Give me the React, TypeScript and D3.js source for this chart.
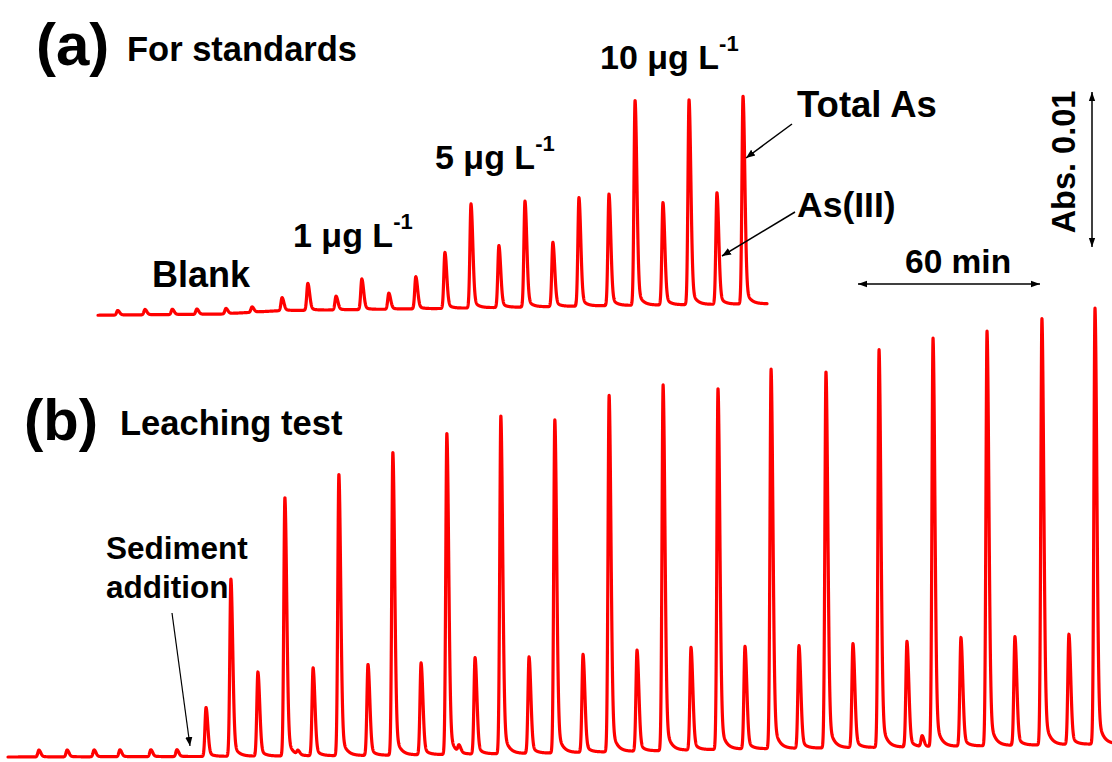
import React from "react";
import * as d3 from "d3";

// ---------- Data (time in min, signal in mAbs) ----------
// Panel (a): standards
const aBlankTimes = [6.5, 15.5, 24.5, 32.6, 42.2, 50.8];
const aBlankHeights = [0.3, 0.35, 0.35, 0.35, 0.35, 0.35];
const aAs3Times = [60.7, 78.5, 95.9, 114.4, 132.2, 150.0, 168.5, 186.3, 204.1];
const aAs3Heights = [0.85, 0.9, 1.05, 3.66, 4.05, 4.2, 7.3, 6.7, 7.3];
const aTotalTimes = [69.2, 87.0, 104.8, 123.0, 140.8, 158.6, 177.1, 194.9, 212.7];
const aTotalHeights = [1.76, 2.0, 2.1, 6.8, 6.93, 7.1, 13.4, 13.4, 13.6];
const aBaseTimes = [0, 40, 60, 110, 170, 220.6];
const aBaseValues = [0.05, 0.12, 0.35, 0.48, 0.68, 0.8];

// Panel (b): leaching test
const bBlankTimes = [10.2, 19.5, 28.4, 36.9, 47.1, 55.7];
const bBlankHeights = [0.45, 0.45, 0.45, 0.45, 0.45, 0.45];
const bAs3Times = [65.3, 82.4, 100.6, 118.7, 136.2, 154.0, 171.8, 189.6, 207.4, 225.2, 243.0, 260.8, 278.6, 296.4, 314.2, 332.0, 349.8];
const bAs3Heights = [3.2, 5.5, 5.75, 5.95, 6.0, 6.3, 6.3, 6.4, 6.6, 6.7, 6.7, 6.7, 6.8, 6.9, 7.1, 7.1, 7.2];
const bTotalTimes = [73.5, 91.3, 109.1, 126.9, 144.7, 162.5, 180.3, 198.2, 216.0, 234.1, 251.6, 269.7, 287.2, 305.0, 322.8, 340.9, 358.4];
const bTotalHeights = [11.6, 16.9, 18.4, 19.8, 21.0, 22.1, 21.8, 23.3, 23.9, 23.6, 24.8, 24.6, 26.0, 26.7, 27.1, 27.9, 28.5];
const bArtifactTimes = [95.6, 148.7, 301.4];
const bArtifactHeights = [0.26, 0.45, 0.7];
const bBaseTimes = [0, 60, 120, 180, 240, 300, 364];
const bBaseValues = [0, 0.03, 0.1, 0.26, 0.52, 0.66, 0.86];

// ---------- Peak shape ----------
function peak(dt: number, h: number): number {
  const sl = 0.36, sr = 0.6, a = 0.12, tau = 1.5;
  if (dt < 0) return h * Math.exp(-(dt * dt) / (2 * sl * sl));
  return h * ((1 - a) * Math.exp(-(dt * dt) / (2 * sr * sr)) + a * Math.exp(-dt / tau));
}

type Peak = [number, number];
function zipPeaks(ts: number[], hs: number[]): Peak[] {
  return ts.map((t, i) => [t, hs[i]] as Peak);
}

function buildTrace(t0: number, t1: number, peaks: Peak[], base: d3.ScaleLinear<number, number>) {
  const pts: [number, number][] = [];
  for (let t = t0; t <= t1 + 1e-9; t += 0.04) {
    let v = base(t);
    for (const [pt, h] of peaks) {
      const dt = t - pt;
      if (dt > -3 && dt < 14) v += peak(dt, h);
    }
    pts.push([t, v]);
  }
  return pts;
}

const FONT = "'Liberation Sans', Arial, Helvetica, sans-serif";

function Label({ x, y, text, size = 34, sup }: { x: number; y: number; text: string; size?: number; sup?: string }) {
  return (
    <text x={x} y={y} fontFamily={FONT} fontWeight="bold" fontSize={size} fill="#000">
      {text}
      {sup ? (
        <tspan fontSize={22} dy={-18}>{sup}</tspan>
      ) : null}
    </text>
  );
}

export default function App() {
  const xA = d3.scaleLinear().domain([0, 220.6]).range([98, 767]);
  const yA = d3.scaleLinear().domain([0, 10]).range([316, 163]);
  const xB = d3.scaleLinear().domain([0, 364]).range([8, 1112]);
  const yB = d3.scaleLinear().domain([0, 10]).range([757, 604]);

  const baseA = d3.scaleLinear().domain(aBaseTimes).range(aBaseValues);
  const baseB = d3.scaleLinear().domain(bBaseTimes).range(bBaseValues);

  const peaksA = [
    ...zipPeaks(aBlankTimes, aBlankHeights),
    ...zipPeaks(aAs3Times, aAs3Heights),
    ...zipPeaks(aTotalTimes, aTotalHeights),
  ];
  const peaksB = [
    ...zipPeaks(bBlankTimes, bBlankHeights),
    ...zipPeaks(bAs3Times, bAs3Heights),
    ...zipPeaks(bTotalTimes, bTotalHeights),
    ...zipPeaks(bArtifactTimes, bArtifactHeights),
  ];

  const traceA = buildTrace(0, 220.6, peaksA, baseA);
  const traceB = buildTrace(0, 364, peaksB, baseB);

  const lineA = d3.line<[number, number]>().x((d) => xA(d[0])).y((d) => yA(d[1]));
  const lineB = d3.line<[number, number]>().x((d) => xB(d[0])).y((d) => yB(d[1]));

  return (
    <svg
      width={1112}
      height={762}
      viewBox="0 0 1112 762"
      style={{ position: "absolute", left: 0, top: 0, background: "#fff" }}
    >
      <defs>
        <marker id="ah" viewBox="0 0 10 10" refX="10" refY="5" markerWidth="9" markerHeight="9" markerUnits="userSpaceOnUse" orient="auto-start-reverse">
          <path d="M0,1 L10,5 L0,9 z" fill="#000" />
        </marker>
        <marker id="ahs" viewBox="0 0 10 10" refX="10" refY="5" markerWidth="11" markerHeight="9" markerUnits="userSpaceOnUse" orient="auto-start-reverse">
          <path d="M0,1.5 L10,5 L0,8.5 z" fill="#000" />
        </marker>
      </defs>
      <rect x={0} y={0} width={1112} height={762} fill="#fff" />

      {/* traces */}
      <path d={lineA(traceA) || ""} fill="none" stroke="#ff0000" strokeWidth={3.2} strokeLinejoin="round" strokeLinecap="round" />
      <path d={lineB(traceB) || ""} fill="none" stroke="#ff0000" strokeWidth={3.2} strokeLinejoin="round" strokeLinecap="round" />

      {/* panel labels */}
      <text x={36} y={65} fontFamily={FONT} fontWeight="bold" fontSize={60}>(a)</text>
      <text x={127} y={61} fontFamily={FONT} fontWeight="bold" fontSize={34.5}>For standards</text>
      <text x={24} y={440} fontFamily={FONT} fontWeight="bold" fontSize={58}>(b)</text>
      <text x={120} y={435} fontFamily={FONT} fontWeight="bold" fontSize={34.5}>Leaching test</text>

      {/* panel (a) annotations */}
      <Label x={152} y={287} text="Blank" size={36} />
      <Label x={293} y={247} text="1 μg L" sup="-1" />
      <Label x={435} y={169} text="5 μg L" sup="-1" />
      <Label x={600} y={69} text="10 μg L" sup="-1" />
      <Label x={797} y={117} text="Total As" size={36.5} />
      <Label x={797} y={217} text="As(III)" size={35.5} />

      <line x1={792} y1={124} x2={746} y2={158} stroke="#000" strokeWidth={1.5} markerEnd="url(#ah)" />
      <line x1={795} y1={212} x2={722} y2={256} stroke="#000" strokeWidth={1.5} markerEnd="url(#ah)" />

      {/* scale bars */}
      <text x={905} y={273} fontFamily={FONT} fontWeight="bold" fontSize={33.5}>60 min</text>
      <line x1={858} y1={284} x2={1040} y2={284} stroke="#000" strokeWidth={1.5} markerStart="url(#ahs)" markerEnd="url(#ahs)" />
      <text
        x={0}
        y={0}
        transform="translate(1075,162) rotate(-90)"
        textAnchor="middle"
        fontFamily={FONT}
        fontWeight="bold"
        fontSize={32.5}
      >
        Abs. 0.01
      </text>
      <line x1={1092} y1={92} x2={1092} y2={247} stroke="#000" strokeWidth={1.5} markerStart="url(#ahs)" markerEnd="url(#ahs)" />

      {/* panel (b) annotation */}
      <text x={106} y={559} fontFamily={FONT} fontWeight="bold" fontSize={31.5}>Sediment</text>
      <text x={106} y={598} fontFamily={FONT} fontWeight="bold" fontSize={31.5}>addition</text>
      <line x1={172} y1={613} x2={190} y2={746} stroke="#000" strokeWidth={1.2} markerEnd="url(#ah)" />
    </svg>
  );
}
